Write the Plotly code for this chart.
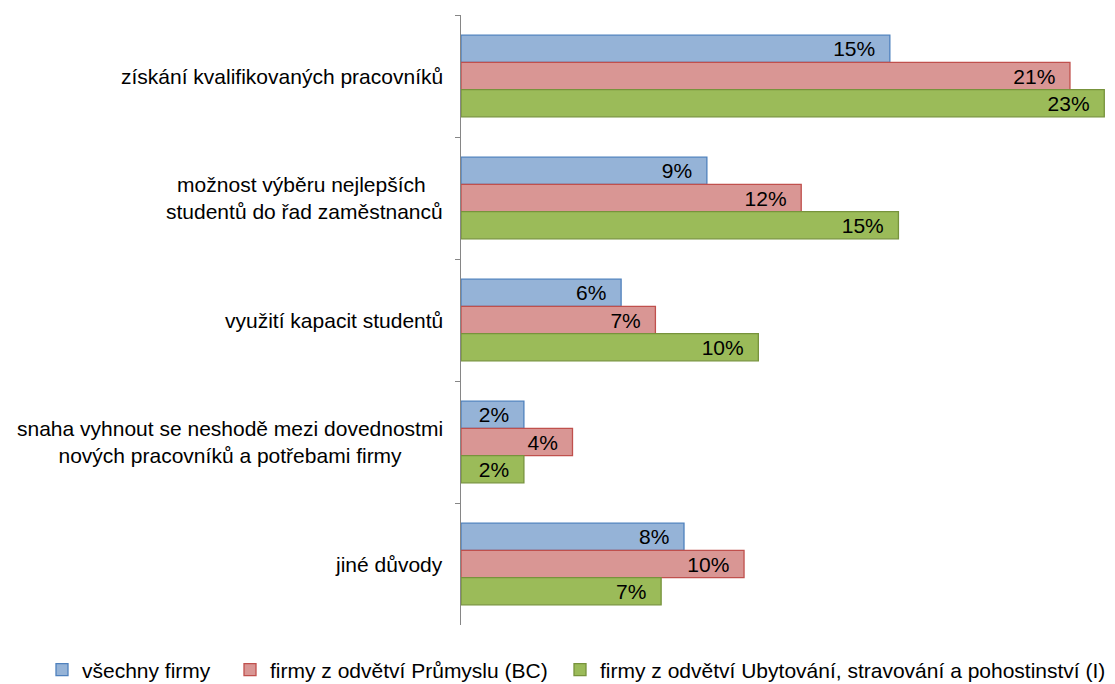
import plotly.graph_objects as go

categories = [
    "získání kvalifikovaných pracovníků",
    "možnost výběru nejlepších <br>studentů do řad zaměstnanců",
    "využití kapacit studentů",
    "snaha vyhnout se neshodě mezi dovednostmi<br>nových pracovníků a potřebami firmy",
    "jiné důvody",
]
series_names = [
    "všechny firmy",
    "firmy z odvětví Průmyslu (BC)",
    "firmy z odvětví Ubytování, stravování a pohostinství (I)",
]
vals_all = [15.0, 8.6, 5.6, 2.2, 7.8]
vals_bc = [21.3, 11.9, 6.8, 3.9, 9.9]
vals_i = [22.5, 15.3, 10.4, 2.2, 7.0]
labels_all = ["15%", "9%", "6%", "2%", "8%"]
labels_bc = ["21%", "12%", "7%", "4%", "10%"]
labels_i = ["23%", "15%", "10%", "2%", "7%"]

fills = ["#95B3D7", "#D99694", "#9BBB59"]
borders = ["#4F81BD", "#C0504D", "#77933C"]
legend_ids = ["legend", "legend2", "legend3"]
legend_x = [34, 222, 552]

FONT = "Liberation Sans, Arial, sans-serif"
FS = 21
W, H = 1107, 676

fig = go.Figure()
for name, vals, labs, fc, bc, lg in zip(series_names, [vals_all, vals_bc, vals_i],
                                        [labels_all, labels_bc, labels_i], fills, borders,
                                        legend_ids):
    fig.add_trace(go.Bar(
        y=categories, x=vals, name=name, orientation="h", legend=lg,
        marker=dict(color=fc, line=dict(color=bc, width=1.3)),
        text=labs, texttemplate="%{text}\u00a0\u00a0",
        textposition="inside", insidetextanchor="end",
        textfont=dict(family=FONT, size=FS, color="#000000"),
        constraintext="none", cliponaxis=False,
    ))

for c in categories:
    fig.add_annotation(
        x=0, xref="paper", y=c, yref="y", text=c, showarrow=False,
        xanchor="right", yanchor="middle", align="center", xshift=-16,
        font=dict(family=FONT, size=FS, color="#000000"),
    )

leg_common = dict(orientation="h", xref="container", yref="container",
                  xanchor="left", yanchor="middle", y=14 / H,
                  font=dict(family=FONT, size=FS, color="#000000"),
                  itemwidth=30, bgcolor="rgba(0,0,0,0)")

fig.update_layout(
    width=W, height=H,
    margin=dict(l=453, r=5, t=7, b=59, autoexpand=False),
    paper_bgcolor="white", plot_bgcolor="white",
    barmode="group", bargap=0.33, bargroupgap=0,
    font=dict(family=FONT, size=FS, color="#000000"),
    showlegend=True,
    legend=dict(x=legend_x[0] / W, **leg_common),
    legend2=dict(x=legend_x[1] / W, **leg_common),
    legend3=dict(x=legend_x[2] / W, **leg_common),
)
fig.update_xaxes(range=[0, 22.7], showgrid=False, zeroline=False,
                 showticklabels=False, showline=False, ticks="")
fig.update_yaxes(autorange="reversed", type="category", showline=True,
                 linecolor="#868686", linewidth=1.3, ticks="outside",
                 tickson="boundaries", ticklen=5, tickcolor="#868686",
                 tickwidth=1.3, showticklabels=False, showgrid=False)

fig.write_html("out.html")
